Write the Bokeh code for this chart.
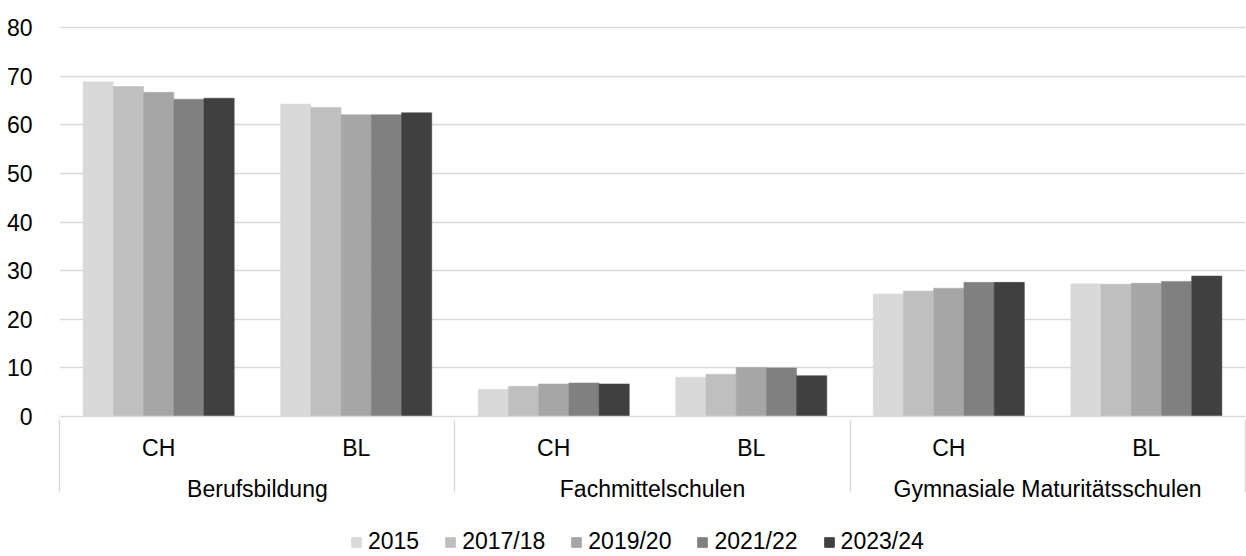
from bokeh.plotting import figure
from bokeh.layouts import column
from bokeh.models import FactorRange, ColumnDataSource, Legend, LegendItem, FixedTicker
from bokeh.transform import dodge
from bokeh.embed import file_html
from bokeh.resources import INLINE

groups = ["Berufsbildung", "Fachmittelschulen", "Gymnasiale Maturitätsschulen"]
regions = ["CH", "BL"]
years = ["2015", "2017/18", "2019/20", "2021/22", "2023/24"]
v2015 = [68.9, 64.3, 5.6, 8.1, 25.2, 27.3]
v2017 = [67.9, 63.6, 6.2, 8.7, 25.8, 27.2]
v2019 = [66.7, 62.1, 6.7, 10.1, 26.4, 27.4]
v2021 = [65.3, 62.1, 6.9, 10.0, 27.6, 27.8]
v2023 = [65.5, 62.5, 6.7, 8.4, 27.6, 28.9]
series = [v2015, v2017, v2019, v2021, v2023]
colors = ["#D9D9D9", "#BFBFBF", "#A6A6A6", "#808080", "#404040"]
y_ticks = [0, 10, 20, 30, 40, 50, 60, 70, 80]

factors = [(g, r) for g in groups for r in regions]
data = {"cat": factors}
for y, s in zip(years, series):
    data[y] = s
src = ColumnDataSource(data)

FONT = "Liberation Sans"
FS = "23px"
# empty edge groups (outside the visible range) so that the axis draws its
# group separators at both outer edges as well
all_factors = [(" ", "")] + factors + [("  ", "")]
x_range = FactorRange(*all_factors, factor_padding=0, subgroup_padding=0, group_padding=0,
                      range_padding=-0.998, range_padding_units="absolute")

p = figure(x_range=x_range, y_range=(0, 80.25), width=1246, height=512,
           output_backend="svg", toolbar_location=None)
p.min_border_left = 59
p.min_border_right = 1
p.min_border_top = 26
p.min_border_bottom = 96
p.outline_line_color = None
p.background_fill_color = "white"

bw = 0.153
for i, (y, c) in enumerate(zip(years, colors)):
    off = (i - 2) * bw
    p.vbar(x=dodge("cat", off, range=p.x_range), top=y, width=bw, source=src,
           fill_color=c, line_color=c, line_width=0.5)

p.xgrid.grid_line_color = None
p.ygrid.grid_line_color = "#D9D9D9"
p.ygrid.grid_line_width = 1.3
p.ygrid.ticker = FixedTicker(ticks=y_ticks)

ya = p.yaxis[0]
ya.ticker = FixedTicker(ticks=y_ticks)
ya.axis_line_color = None
ya.major_tick_line_color = None
ya.minor_tick_line_color = None
ya.major_label_standoff = 21
ya.major_label_text_font = FONT
ya.major_label_text_font_size = FS
ya.major_label_text_color = "#000000"

xa = p.xaxis[0]
xa.axis_line_color = "#D9D9D9"
xa.axis_line_width = 1.3
xa.major_tick_line_color = None
xa.minor_tick_line_color = None
xa.major_label_standoff = 12
xa.major_label_text_font = FONT
xa.major_label_text_font_size = FS
xa.major_label_text_color = "#000000"
xa.group_text_font = FONT
xa.group_text_font_size = FS
xa.group_text_font_style = "normal"
xa.group_text_color = "#000000"
xa.separator_line_color = "#D9D9D9"
xa.separator_line_width = 1.3

# legend strip below the chart (its bars lie outside its own visible y range,
# so only the legend itself shows)
lg = figure(x_range=p.x_range, y_range=(100, 101), width=1246, height=44,
            output_backend="svg", toolbar_location=None,
            x_axis_type=None, y_axis_type=None, min_border=0)
lg.outline_line_color = None
lg.grid.visible = False
items = []
for i, (y, c) in enumerate(zip(years, colors)):
    off = (i - 2) * bw
    r = lg.vbar(x=dodge("cat", off, range=lg.x_range), top=y, width=bw, source=src,
                fill_color=c, line_color=c)
    items.append(LegendItem(label=y, renderers=[r]))

legend = Legend(items=items, orientation="horizontal", location=(291, 1),
                label_text_font=FONT, label_text_font_size=FS, label_text_color="#000000",
                glyph_width=12, glyph_height=12, label_standoff=6, spacing=25,
                border_line_color=None, background_fill_alpha=0, padding=0, margin=0)
lg.add_layout(legend)

layout = column(p, lg, spacing=0)
open("out.html", "w").write(file_html(layout, INLINE))
